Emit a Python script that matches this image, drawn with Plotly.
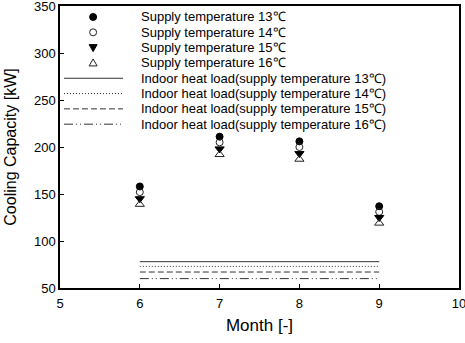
import plotly.graph_objects as go

months = [6, 7, 8, 9]
cap_13 = [158, 211, 206, 137]
cap_14 = [152, 205, 200, 131]
cap_15 = [145, 198, 193, 125]
cap_16 = [139, 192, 187, 119]

load_months = [6, 9]
load_13 = [78, 78]
load_14 = [73, 73]
load_15 = [67, 67]
load_16 = [60, 60]

marker_labels = ["Supply temperature 13℃", "Supply temperature 14℃",
                 "Supply temperature 15℃", "Supply temperature 16℃"]
line_labels = ["Indoor heat load(supply temperature 13℃)",
               "Indoor heat load(supply temperature 14℃)",
               "Indoor heat load(supply temperature 15℃)",
               "Indoor heat load(supply temperature 16℃)"]

FONT = "Liberation Sans, Arial, sans-serif"

marker_styles = [
    dict(symbol="circle", size=7, color="black", line=dict(color="black", width=1)),
    dict(symbol="circle-open", size=7, color="#222", line=dict(width=1)),
    dict(symbol="triangle-down", size=8, color="black", line=dict(color="black", width=1)),
    dict(symbol="triangle-up-open", size=8, color="#222", line=dict(width=1)),
]
line_dashes = ["solid", "1px,2px", "6px,3px", "9px,3px,1px,3px,1px,3px"]

fig = go.Figure()
for lab, vals, dash in zip(line_labels, [load_13, load_14, load_15, load_16], line_dashes):
    fig.add_trace(go.Scatter(x=load_months, y=vals, mode="lines", name=lab,
                             line=dict(color="#333", width=1, dash=dash), showlegend=False))
for lab, vals, ms in zip(marker_labels, [cap_13, cap_14, cap_15, cap_16], marker_styles):
    fig.add_trace(go.Scatter(x=months, y=vals, mode="markers", name=lab,
                             marker=ms, showlegend=False))

# custom legend (compact rows like the original)
top = 0.961
step = 0.0543
text_x = 0.198
sym_x = 0.083
annotations = []
shapes = []
all_labels = marker_labels + line_labels
for i, lab in enumerate(all_labels):
    yy = top - i * step
    annotations.append(dict(x=text_x, y=yy, xref="paper", yref="paper", text=lab,
                            showarrow=False, xanchor="left", yanchor="middle",
                            font=dict(family=FONT, size=13, color="black")))
for i in range(4):
    yy = top - i * step
    common = dict(xref="paper", yref="paper", xsizemode="pixel", ysizemode="pixel",
                  xanchor=sym_x, yanchor=yy, layer="above")
    if i == 0:
        shapes.append(dict(type="circle", x0=-3.5, x1=3.5, y0=-3.5, y1=3.5,
                           fillcolor="black", line=dict(color="black", width=1), **common))
    elif i == 1:
        shapes.append(dict(type="circle", x0=-3.5, x1=3.5, y0=-3.5, y1=3.5,
                           fillcolor="white", line=dict(color="#222", width=1), **common))
    elif i == 2:
        shapes.append(dict(type="path", path="M-4,3 L4,3 L0,-4 Z",
                           fillcolor="black", line=dict(color="black", width=1), **common))
    else:
        shapes.append(dict(type="path", path="M-4,-3 L4,-3 L0,4 Z",
                           fillcolor="white", line=dict(color="#222", width=1), **common))
for j, dash in enumerate(line_dashes):
    yy = top - (4 + j) * step
    shapes.append(dict(type="line", xref="paper", yref="paper", x0=0.01, x1=0.158,
                       y0=yy, y1=yy, line=dict(color="#333", width=1, dash=dash)))

fig.update_layout(
    template="none",
    width=465, height=343,
    margin=dict(l=60, r=6, t=6, b=55),
    paper_bgcolor="white", plot_bgcolor="white",
    font=dict(family=FONT, size=13, color="black"),
    showlegend=False,
    annotations=annotations,
    shapes=shapes,
    xaxis=dict(range=[5, 10], dtick=1, tick0=5, showgrid=False, zeroline=False,
               automargin=False, ticklabeloverflow="allow", ticklabelstandoff=3,
               showline=True, linecolor="black", linewidth=1.5, mirror=True,
               ticks="inside", ticklen=4, tickwidth=1, tickcolor="black",
               tickfont=dict(family=FONT, size=13),
               title=dict(text="Month [-]", font=dict(family=FONT, size=17), standoff=9)),
    yaxis=dict(range=[50, 350], dtick=50, tick0=50, showgrid=False, zeroline=False,
               automargin=False, ticklabeloverflow="allow",
               showline=True, linecolor="black", linewidth=1.5, mirror=True,
               ticks="inside", ticklen=4, tickwidth=1, tickcolor="black",
               tickfont=dict(family=FONT, size=13),
               title=dict(text="Cooling Capacity [kW]", font=dict(family=FONT, size=16), standoff=13)),
)

fig.write_html("out.html")
